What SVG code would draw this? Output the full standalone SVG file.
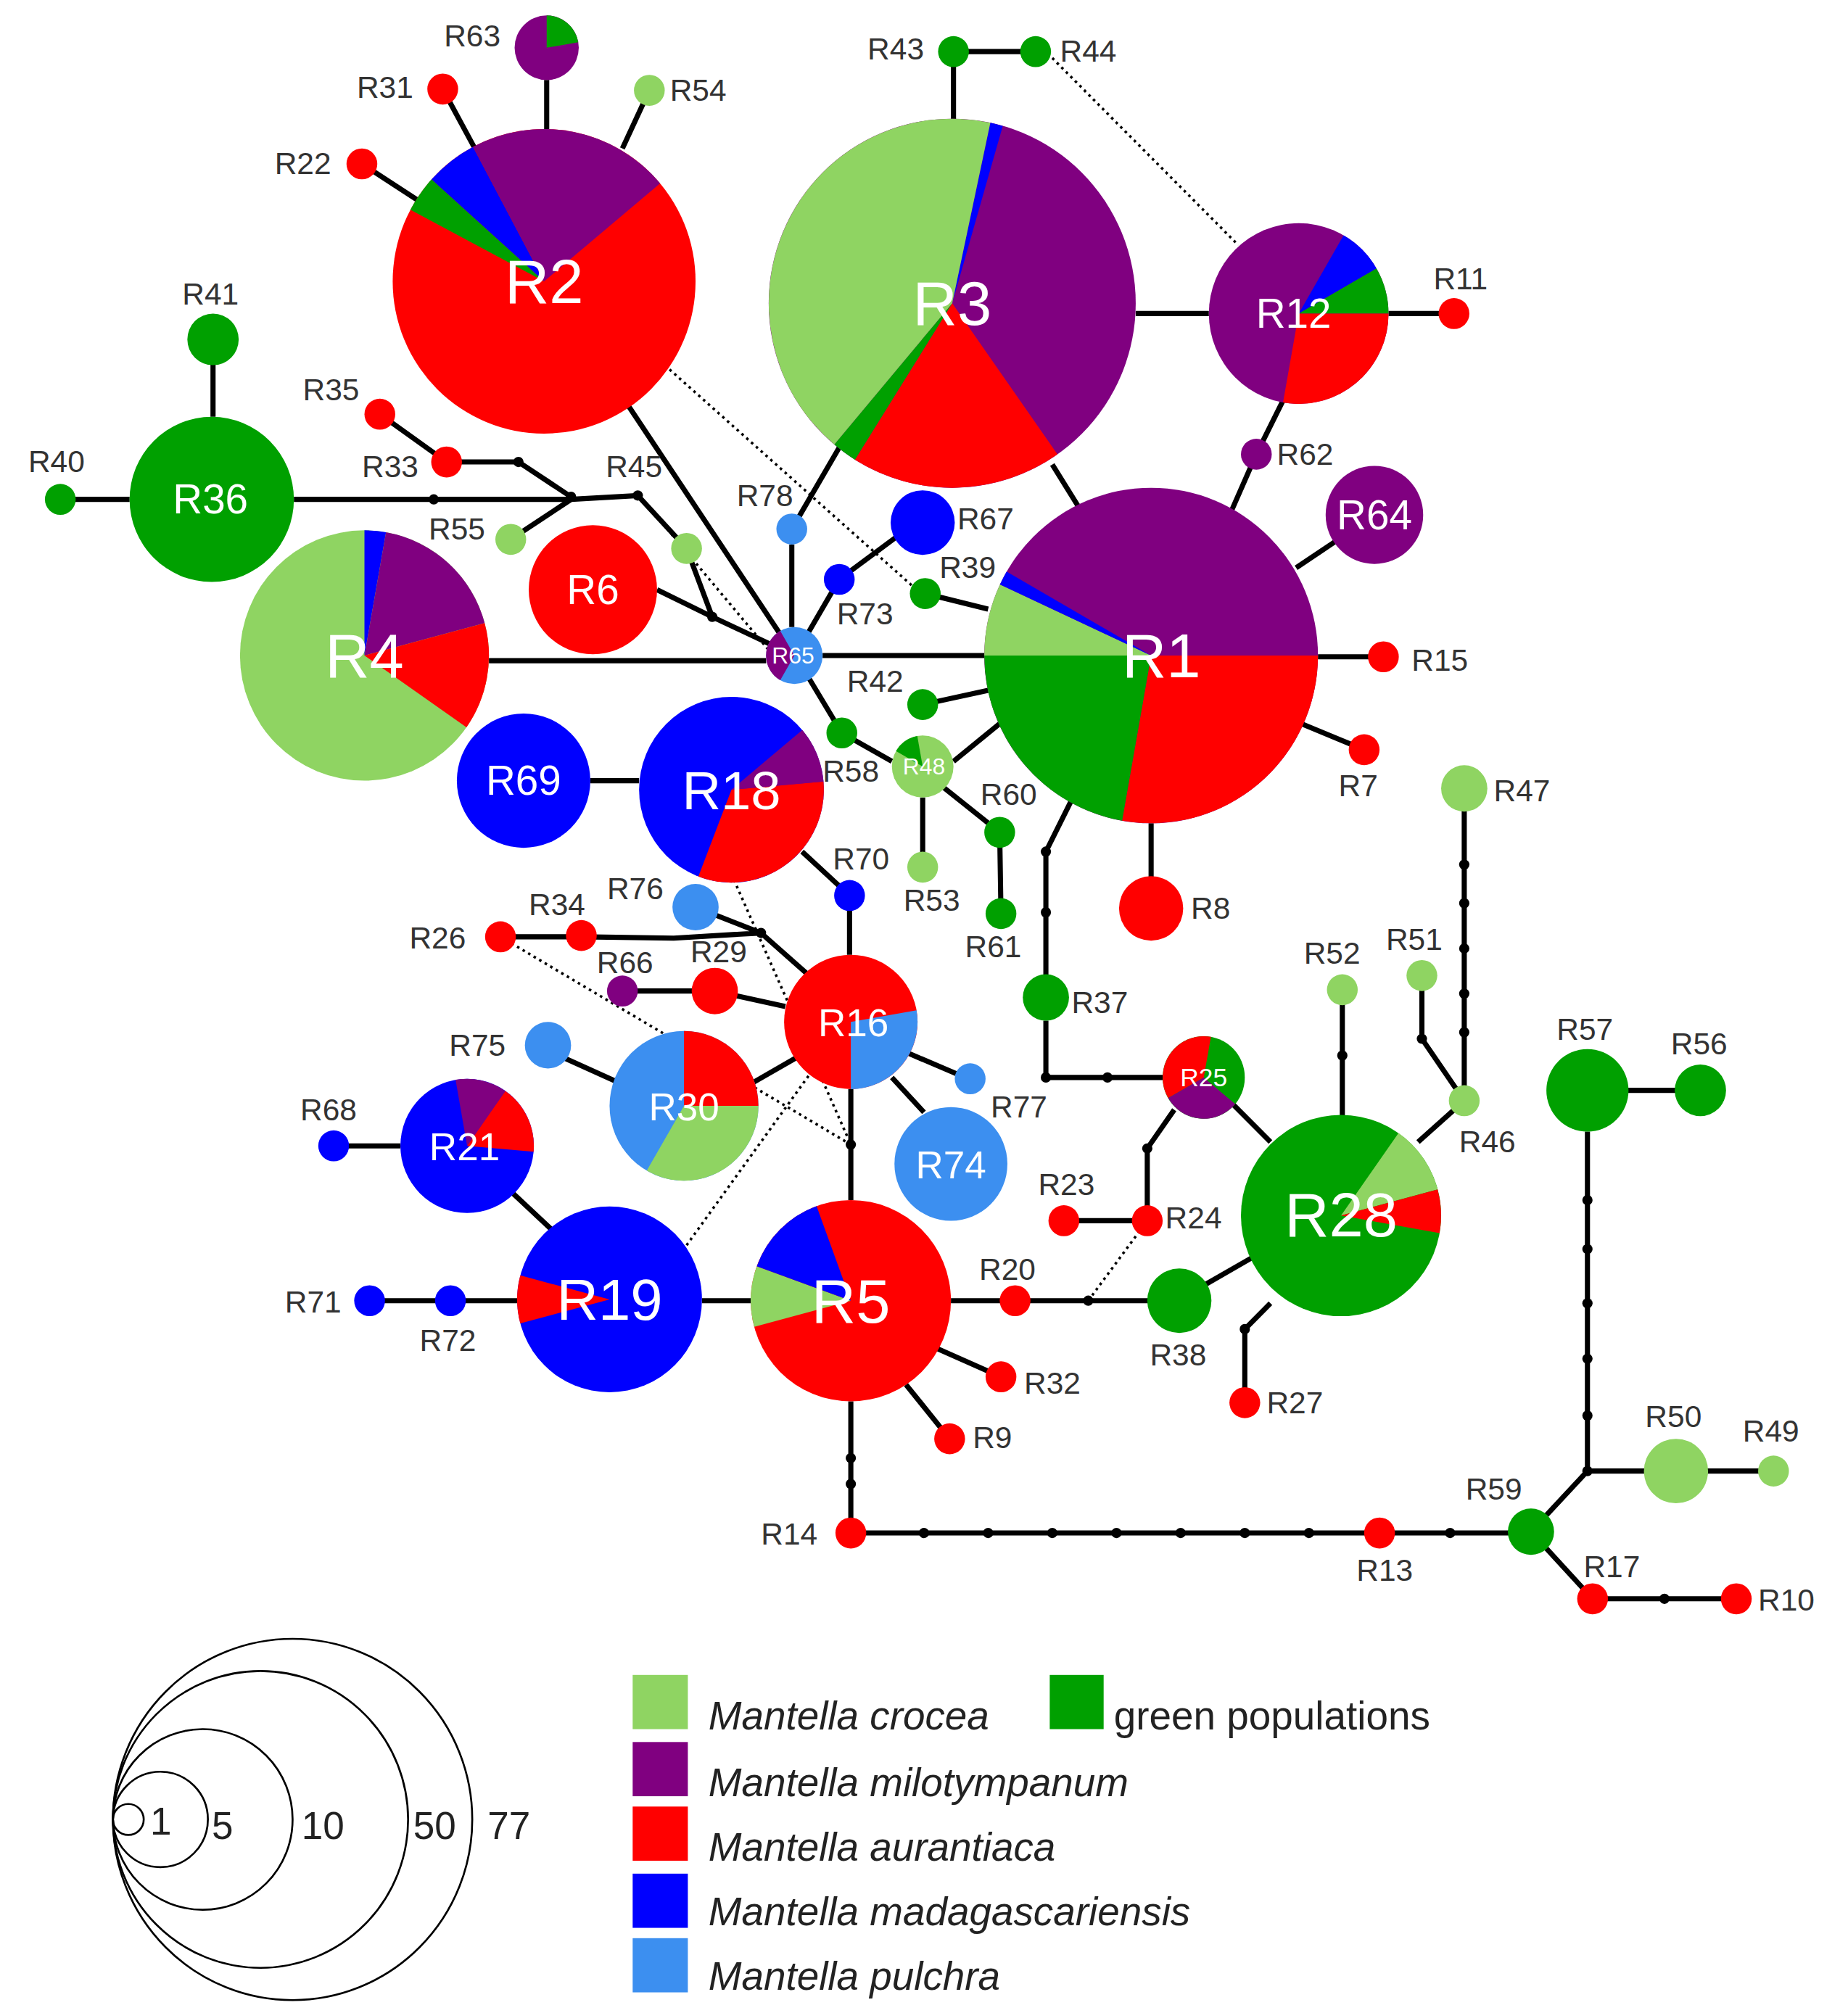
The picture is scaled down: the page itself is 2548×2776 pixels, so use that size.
<svg xmlns="http://www.w3.org/2000/svg" width="2548" height="2776" viewBox="0 0 2548 2776">
<style>
.e{stroke:#000;stroke-width:4;fill:none}
.d{stroke:#000;stroke-width:2;fill:none;stroke-dasharray:2 3}
.lg{fill:#8fd462}.g{fill:#00a000}.p{fill:#800080}.r{fill:#ff0000}.b{fill:#0000ff}.lb{fill:#3c8ff0}
text{font-family:"Liberation Sans",Arial,sans-serif}
.t{font-size:24px;fill:#333}
.w{fill:#fff;text-anchor:middle}
.leg{font-size:31px;font-style:italic;fill:#222}
.sz{fill:none;stroke:#000;stroke-width:1.5}
</style>
<rect width="2548" height="2776" fill="#fff"/>
<g transform="scale(1.7694,1.7795)">
<g id="connectors">
<path class="e" d="M743 40H807M743 40V100M426 62V100M345 69L370 115M506 70L485 115M282 127L330 158"/>
<path class="e" d="M885 243H942M1082 243H1133M1000 310L979 352L960 395M820 360L840 392M655 345L617 410M490 315L619 508"/>
<path class="e" d="M166 263V323M47 387H101M229 387H445L497 384L535 425L555 478L619 508M296 321L348 358L404 358L445 385M398 418L445 387M512 457L555 478"/>
<path class="e" d="M381 512H597M641 508H767M617 422V486M630 490L654 449L700 415M721 460L770 472"/>
<path class="e" d="M1010 440L1040 420M1027 509H1078M1012 560L1063 581M897 638V704M719 546L770 535M743 590L780 560M630 525L656 568L695 590M719 618V672M735 610L779 645L780 708"/>
<path class="e" d="M835 620L815 660V773M815 791V835H906M915 860L894 890V946H829M960 855L990 885"/>
<path class="e" d="M460 605H498M625 660L662 694V740M390 726H453L525 727L593 723L635 760M542 703L593 723M485 768H557L612 780M620 820L585 840M440 820L480 838M705 815L745 832M695 835L720 862M663 844V930"/>
<path class="e" d="M260 888H312M400 925L430 953M288 1008H403M547 1008H585M741 1008H919M940 995L975 975M730 1045L780 1067M706 1073L740 1115M990 1010L970 1030V1087"/>
<path class="e" d="M1046 865V767M1105 885L1141 853L1108 805V756M1141 853V611M663 1086V1188H1193M1237 877V1140L1193 1187L1241 1239H1353M1237 1140H1382M1237 845H1325"/>
<g fill="#000">
<circle cx="338" cy="387" r="4"/><circle cx="445" cy="385" r="4"/><circle cx="404" cy="358" r="4"/><circle cx="497" cy="384" r="4"/><circle cx="555" cy="478" r="4"/>
<circle cx="815" cy="660" r="4"/><circle cx="815" cy="707" r="4"/><circle cx="815" cy="835" r="4"/><circle cx="863" cy="835" r="4"/><circle cx="894" cy="890" r="4"/>
<circle cx="593" cy="723" r="4"/><circle cx="663" cy="887" r="4"/><circle cx="848" cy="1008" r="4"/><circle cx="970" cy="1030" r="4"/><circle cx="1046" cy="818" r="4"/><circle cx="1108" cy="805" r="4"/>
<circle cx="1141" cy="670" r="4"/><circle cx="1141" cy="700" r="4"/><circle cx="1141" cy="735" r="4"/><circle cx="1141" cy="770" r="4"/><circle cx="1141" cy="800" r="4"/>
<circle cx="663" cy="1130" r="4"/><circle cx="663" cy="1150" r="4"/>
<circle cx="720" cy="1188" r="4"/><circle cx="770" cy="1188" r="4"/><circle cx="820" cy="1188" r="4"/><circle cx="870" cy="1188" r="4"/><circle cx="920" cy="1188" r="4"/><circle cx="970" cy="1188" r="4"/><circle cx="1020" cy="1188" r="4"/><circle cx="1130" cy="1188" r="4"/>
<circle cx="1237" cy="930" r="4"/><circle cx="1237" cy="968" r="4"/><circle cx="1237" cy="1010" r="4"/><circle cx="1237" cy="1053" r="4"/><circle cx="1237" cy="1097" r="4"/><circle cx="1237" cy="1140" r="4"/><circle cx="1297" cy="1239" r="4"/>
</g>
<path class="d" d="M820 45L965 190M518 283L712 455M520 410L600 505M390 726L663 887M572 682L663 887M535 965L640 820M894 946L848 1008"/>
</g>
<g id="R2"><circle class="r" cx="424" cy="218" r="118"/><path class="g" d="M424 218L319.8 162.6A118 118 0 0 1 336.3 139Z"/><path class="b" d="M424 218L336.3 139A118 118 0 0 1 368.6 113.8Z"/><path class="p" d="M424 218L368.6 113.8A118 118 0 0 1 514.4 142.1Z"/><text class="w" x="424" y="235" font-size="48">R2</text></g>
<g id="R3"><circle class="p" cx="742" cy="235" r="143"/><path class="b" d="M742 235L771.7 95.1A143 143 0 0 1 781.4 97.6Z"/><path class="r" d="M742 235L824 352.1A143 143 0 0 1 666.2 356.3Z"/><path class="g" d="M742 235L666.2 356.3A143 143 0 0 1 650.1 344.5Z"/><path class="lg" d="M742 235L650.1 344.5A143 143 0 0 1 771.7 95.1Z"/><text class="w" x="742" y="252" font-size="48">R3</text></g>
<g id="R12"><circle class="p" cx="1012" cy="243" r="70"/><path class="b" d="M1012 243L1047 182.4A70 70 0 0 1 1072.6 208Z"/><path class="g" d="M1012 243L1072.6 208A70 70 0 0 1 1082 243Z"/><path class="r" d="M1012 243L1082 243A70 70 0 0 1 999.8 311.9Z"/><text class="w" x="1008" y="254" font-size="32">R12</text></g>
<g id="R1"><circle class="p" cx="897" cy="508" r="130"/><path class="r" d="M897 508L1027 508A130 130 0 0 1 874.4 636Z"/><path class="g" d="M897 508L874.4 636A130 130 0 0 1 767 508Z"/><path class="lg" d="M897 508L767 508A130 130 0 0 1 779.2 453Z"/><path class="b" d="M897 508L779.2 453A130 130 0 0 1 784.4 443Z"/><text class="w" x="905" y="525" font-size="48">R1</text></g>
<g id="R4"><circle class="lg" cx="284" cy="508" r="97"/><path class="b" d="M284 508L284 411A97 97 0 0 1 300.8 412.5Z"/><path class="p" d="M284 508L300.8 412.5A97 97 0 0 1 377.7 482.9Z"/><path class="r" d="M284 508L377.7 482.9A97 97 0 0 1 363.5 563.6Z"/><text class="w" x="284" y="525" font-size="48">R4</text></g>
<g id="R18"><circle class="b" cx="570" cy="612" r="72"/><path class="p" d="M570 612L625.2 565.7A72 72 0 0 1 641.7 605.7Z"/><path class="r" d="M570 612L641.7 605.7A72 72 0 0 1 544.2 679.2Z"/><text class="w" x="570" y="627" font-size="42">R18</text></g>
<g id="R16"><circle class="r" cx="663" cy="792" r="52"/><path class="lb" d="M663 792L714.2 783A52 52 0 0 1 663 844Z"/><text class="w" x="665" y="803" font-size="30">R16</text></g>
<g id="R30"><circle class="lb" cx="533" cy="857" r="58"/><path class="r" d="M533 857L533 799A58 58 0 0 1 591 857Z"/><path class="lg" d="M533 857L591 857A58 58 0 0 1 504 907.2Z"/><text class="w" x="533" y="868" font-size="30">R30</text></g>
<g id="R21"><circle class="b" cx="364" cy="888" r="52"/><path class="p" d="M364 888L355 836.8A52 52 0 0 1 393.8 845.4Z"/><path class="r" d="M364 888L393.8 845.4A52 52 0 0 1 415.8 892.5Z"/><text class="w" x="362" y="899" font-size="30">R21</text></g>
<g id="R19"><circle class="b" cx="475" cy="1007" r="72"/><path class="r" d="M475 1007L405.4 1025.6A72 72 0 0 1 405.4 988.4Z"/><text class="w" x="475" y="1023" font-size="45">R19</text></g>
<g id="R5"><circle class="r" cx="663" cy="1008" r="78"/><path class="lg" d="M663 1008L587.7 1028.2A78 78 0 0 1 589.7 981.3Z"/><path class="b" d="M663 1008L589.7 981.3A78 78 0 0 1 636.3 934.7Z"/><text class="w" x="663" y="1025" font-size="48">R5</text></g>
<g id="R28"><circle class="g" cx="1045" cy="942" r="78"/><path class="lg" d="M1045 942L1089.8 878.1A78 78 0 0 1 1120.3 921.8Z"/><path class="r" d="M1045 942L1120.3 921.8A78 78 0 0 1 1121.8 955.6Z"/><text class="w" x="1045" y="958" font-size="48">R28</text></g>
<g id="R25"><circle class="g" cx="938" cy="835" r="32"/><path class="r" d="M938 835L910.3 851A32 32 0 0 1 943.6 803.5Z"/><path class="p" d="M938 835L962.5 855.6A32 32 0 0 1 910.3 851Z"/><text class="w" x="938" y="842" font-size="20">R25</text></g>
<g id="R65"><circle class="lb" cx="619" cy="508" r="22"/><path class="p" d="M619 508L608 527.1A22 22 0 0 1 608 488.9Z"/><text class="w" x="618" y="514" font-size="18">R65</text></g>
<g id="R48"><circle class="lg" cx="719" cy="594" r="24"/><path class="g" d="M719 594L698.2 582A24 24 0 0 1 714.8 570.4Z"/><text class="w" x="720" y="600" font-size="18">R48</text></g>
<g id="R63"><circle class="p" cx="426" cy="37" r="25"/><path class="g" d="M426 37L426 12A25 25 0 0 1 450.6 32.7Z"/></g>
<g id="R36"><circle class="g" cx="165" cy="387" r="64"/><text class="w" x="164" y="398" font-size="32">R36</text></g>
<g id="R6"><circle class="r" cx="462" cy="457" r="50"/><text class="w" x="462" y="468" font-size="32">R6</text></g>
<g id="R64"><circle class="p" cx="1071" cy="399" r="38"/><text class="w" x="1071" y="410" font-size="32">R64</text></g>
<g id="R69"><circle class="b" cx="408" cy="605" r="52"/><text class="w" x="408" y="616" font-size="32">R69</text></g>
<g id="R74"><circle class="lb" cx="741" cy="902" r="44"/><text class="w" x="741" y="913" font-size="30">R74</text></g>
<g id="small">
<circle id="R31" class="r" cx="345" cy="69" r="12"/><circle id="R54" class="lg" cx="506" cy="70" r="12"/><circle id="R22" class="r" cx="282" cy="127" r="12"/>
<circle id="R43" class="g" cx="743" cy="40" r="12"/><circle id="R44" class="g" cx="807" cy="40" r="12"/><circle id="R11" class="r" cx="1133" cy="243" r="12"/>
<circle id="R41" class="g" cx="166" cy="263" r="20"/><circle id="R40" class="g" cx="47" cy="387" r="12"/><circle id="R35" class="r" cx="296" cy="321" r="12"/><circle id="R33" class="r" cx="348" cy="358" r="12"/>
<circle id="R55" class="lg" cx="398" cy="418" r="12"/><circle id="R45" class="lg" cx="535" cy="425" r="12"/>
<circle id="R78" class="lb" cx="617" cy="410" r="12"/><circle id="R67" class="b" cx="719" cy="405" r="25"/><circle id="R73" class="b" cx="654" cy="449" r="12"/><circle id="R39" class="g" cx="721" cy="460" r="12"/>
<circle id="R62" class="p" cx="979" cy="352" r="12"/><circle id="R15" class="r" cx="1078" cy="509" r="12"/><circle id="R7" class="r" cx="1063" cy="581" r="12"/><circle id="R8" class="r" cx="897" cy="704" r="25"/>
<circle id="R42" class="g" cx="719" cy="546" r="12"/><circle id="R58" class="g" cx="656" cy="568" r="12"/><circle id="R53" class="lg" cx="719" cy="672" r="12"/><circle id="R60" class="g" cx="779" cy="645" r="12"/><circle id="R61" class="g" cx="780" cy="708" r="12"/>
<circle id="R70" class="b" cx="662" cy="694" r="12"/><circle id="R76" class="lb" cx="542" cy="703" r="18"/><circle id="R34" class="r" cx="453" cy="725" r="12"/><circle id="R26" class="r" cx="390" cy="726" r="12"/><circle id="R66" class="p" cx="485" cy="768" r="12"/><circle id="R29" class="r" cx="557" cy="768" r="18"/>
<circle id="R75" class="lb" cx="427" cy="810" r="18"/><circle id="R77" class="lb" cx="756" cy="836" r="12"/><circle id="R68" class="b" cx="260" cy="888" r="12"/><circle id="R71" class="b" cx="288" cy="1008" r="12"/><circle id="R72" class="b" cx="351" cy="1008" r="12"/>
<circle id="R37" class="g" cx="815" cy="773" r="18"/><circle id="R23" class="r" cx="829" cy="946" r="12"/><circle id="R24" class="r" cx="894" cy="946" r="12"/><circle id="R20" class="r" cx="791" cy="1008" r="12"/><circle id="R38" class="g" cx="919" cy="1008" r="25"/>
<circle id="R32" class="r" cx="780" cy="1067" r="12"/><circle id="R9" class="r" cx="740" cy="1115" r="12"/><circle id="R27" class="r" cx="970" cy="1087" r="12"/>
<circle id="R52" class="lg" cx="1046" cy="767" r="12"/><circle id="R51" class="lg" cx="1108" cy="756" r="12"/><circle id="R46" class="lg" cx="1141" cy="853" r="12"/><circle id="R47" class="lg" cx="1141" cy="611" r="18"/>
<circle id="R57" class="g" cx="1237" cy="845" r="32"/><circle id="R56" class="g" cx="1325" cy="845" r="20"/><circle id="R50" class="lg" cx="1306" cy="1140" r="25"/><circle id="R49" class="lg" cx="1382" cy="1140" r="12"/>
<circle id="R59" class="g" cx="1193" cy="1187" r="18"/><circle id="R17" class="r" cx="1241" cy="1239" r="12"/><circle id="R10" class="r" cx="1353" cy="1239" r="12"/><circle id="R14" class="r" cx="663" cy="1188" r="12"/><circle id="R13" class="r" cx="1075" cy="1188" r="12"/>
</g>
<g id="labels" class="t">
<text x="346" y="36">R63</text><text x="278" y="76">R31</text><text x="522" y="78">R54</text><text x="214" y="135">R22</text><text x="676" y="46">R43</text><text x="826" y="48">R44</text><text x="1117" y="224">R11</text>
<text x="142" y="236">R41</text><text x="22" y="366">R40</text><text x="236" y="310">R35</text><text x="282" y="370">R33</text><text x="472" y="370">R45</text><text x="334" y="418">R55</text>
<text x="574" y="392">R78</text><text x="746" y="410">R67</text><text x="652" y="484">R73</text><text x="732" y="448">R39</text><text x="995" y="360">R62</text><text x="1100" y="520">R15</text><text x="1043" y="617">R7</text><text x="928" y="712">R8</text>
<text x="660" y="536">R42</text><text x="641" y="606">R58</text><text x="704" y="706">R53</text><text x="764" y="624">R60</text><text x="752" y="742">R61</text><text x="649" y="674">R70</text>
<text x="473" y="697">R76</text><text x="412" y="709">R34</text><text x="319" y="735">R26</text><text x="465" y="754">R66</text><text x="538" y="746">R29</text><text x="350" y="818">R75</text><text x="772" y="866">R77</text>
<text x="234" y="868">R68</text><text x="222" y="1017">R71</text><text x="327" y="1047">R72</text><text x="835" y="785">R37</text><text x="809" y="926">R23</text><text x="908" y="952">R24</text><text x="763" y="992">R20</text><text x="896" y="1058">R38</text>
<text x="798" y="1080">R32</text><text x="758" y="1122">R9</text><text x="987" y="1095">R27</text><text x="1016" y="747">R52</text><text x="1080" y="736">R51</text><text x="1137" y="893">R46</text><text x="1164" y="621">R47</text>
<text x="1213" y="806">R57</text><text x="1302" y="817">R56</text><text x="1282" y="1106">R50</text><text x="1358" y="1117">R49</text><text x="1142" y="1162">R59</text><text x="1234" y="1222">R17</text><text x="1370" y="1248">R10</text><text x="593" y="1197">R14</text><text x="1057" y="1225">R13</text>
</g>
<g id="legend">
<rect class="lg" x="493" y="1298" width="43" height="42"/><rect class="g" x="818" y="1298" width="42" height="42"/><rect class="p" x="493" y="1350" width="43" height="42"/><rect class="r" x="493" y="1400" width="43" height="42"/><rect class="b" x="493" y="1452" width="43" height="42"/><rect class="lb" x="493" y="1502" width="43" height="42"/>
<text class="leg" x="552" y="1340">Mantella crocea</text><text x="868" y="1340" font-size="31" fill="#222">green populations</text><text class="leg" x="552" y="1392">Mantella milotympanum</text><text class="leg" x="552" y="1442">Mantella aurantiaca</text><text class="leg" x="552" y="1492">Mantella madagascariensis</text><text class="leg" x="552" y="1542">Mantella pulchra</text>
</g>
<g id="sizes">
<circle class="sz" cx="228" cy="1410" r="140"/><circle class="sz" cx="203" cy="1410" r="115"/><circle class="sz" cx="158" cy="1410" r="70"/><circle class="sz" cx="125" cy="1410" r="37"/><circle class="sz" cx="100" cy="1410" r="12"/>
<g font-size="30" fill="#222"><text x="117" y="1422">1</text><text x="165" y="1425">5</text><text x="235" y="1425">10</text><text x="322" y="1425">50</text><text x="380" y="1425">77</text></g>
</g>
</g>
</svg>
